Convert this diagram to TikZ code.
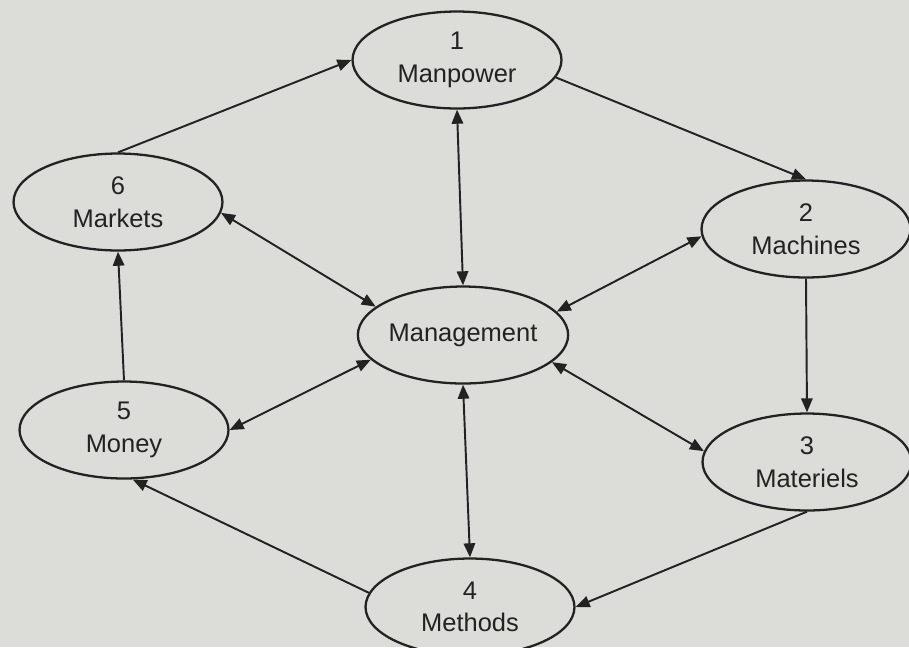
\documentclass[tikz,border=0pt]{standalone}
\usepackage{fontspec}
\setmainfont{Liberation Sans}
\usetikzlibrary{arrows.meta,shapes.geometric}
\definecolor{paper}{HTML}{DCDCD9}
\definecolor{ink}{HTML}{222222}

\begin{document}
\begin{tikzpicture}[x=0.02cm, y=-0.02cm,
  factor/.style={ellipse, draw=ink, line width=1.3pt, minimum width=4.18cm,
    minimum height=1.94cm, inner sep=0pt, align=center, text=ink,
    font=\fontsize{14.5}{18.5}\selectfont},
  link/.style={-{Triangle[length=8pt,width=6.5pt]}, line width=1.1pt, draw=ink},
  both/.style={link, {Triangle[length=8pt,width=6.5pt]}-{Triangle[length=8pt,width=6.5pt]}},
]
  \fill[paper] (0,0) rectangle (909,647);
  \useasboundingbox (0,0) rectangle (909,647);

  % the six factors round the centre
  \node[factor] (manpower) at (457,60)  {1\\Manpower};
  \node[factor] (machines) at (806,229) {2\\Machines};
  \node[factor] (materiels) at (807,462) {3\\Materiels};
  \node[factor] (methods) at (470,607) {4\\Methods};
  \node[factor] (money) at (124,430) {5\\Money};
  \node[factor] (markets) at (118,202) {6\\Markets};
  \node[factor] (mgmt) at (463,335) {Management};

  % outer cycle
  \draw[link] (markets.north) -- (manpower.west);
  \draw[link] (manpower.-10) -- (machines.north);
  \draw[link] (machines.south) -- (materiels.north);
  \draw[link] (materiels.south) -- (methods.east);
  \draw[link] (methods.172) -- (money.-80);
  \draw[link] (money.north) -- (markets.south);

  % management and each factor
  \draw[both] (mgmt.north) -- (manpower.south);
  \draw[both] (mgmt.162) -- (markets.-6);
  \draw[both] (mgmt.14) -- (machines.184);
  \draw[both] (mgmt.-17) -- (materiels.174);
  \draw[both] (mgmt.-165) -- (money.east);
  \draw[both] (mgmt.south) -- (methods.north);
\end{tikzpicture}
\end{document}
